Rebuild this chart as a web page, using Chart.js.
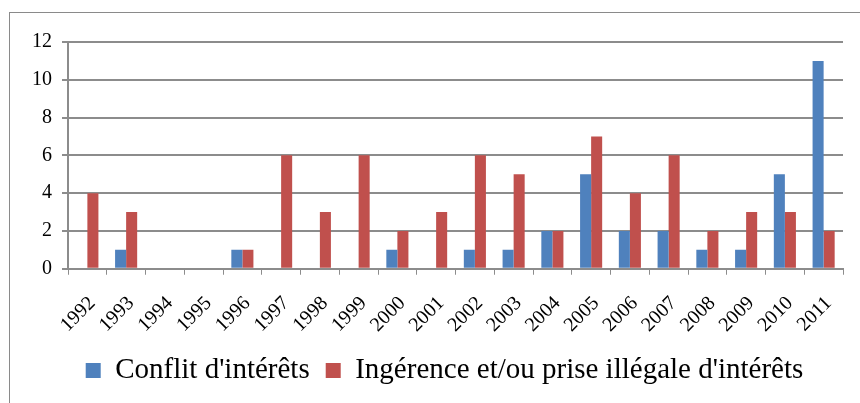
<!DOCTYPE html>
<html>
<head>
<meta charset="utf-8">
<script src="https://cdn.jsdelivr.net/npm/chart.js@4"></script>
<style>
  html, body { margin: 0; padding: 0; background: #fff; }
  #wrap { position: relative; width: 860px; height: 403px; overflow: hidden; }
  #frame { position: absolute; left: 9px; top: 12px; width: 900px; height: 450px; border: 1px solid #8a8a8a; box-sizing: border-box; }
  canvas { position: absolute; left: 0; top: 0; }
</style>
</head>
<body>
<div id="wrap">
  <div id="frame"></div>
  <canvas id="chart" width="860" height="403"></canvas>
</div>
<script>
const years = ['1992', '1993', '1994', '1995', '1996', '1997', '1998', '1999', '2000', '2001',
  '2002', '2003', '2004', '2005', '2006', '2007', '2008', '2009', '2010', '2011'];
const conflit = [0, 1, 0, 0, 1, 0, 0, 0, 1, 0, 1, 1, 2, 5, 2, 2, 1, 1, 5, 11];
const ingerence = [4, 3, 0, 0, 1, 6, 3, 6, 2, 3, 6, 5, 2, 7, 4, 6, 2, 3, 3, 2];
const seriesNames = ["Conflit d'intérêts", "Ingérence et/ou prise illégale d'intérêts"];

const gridColor = '#8c8c8c';
const serif = "'Liberation Serif', 'Times New Roman', serif";

// legend in the original is centred on the frame, a bit right of the plot
const shiftLegend = {
  id: 'shiftLegend',
  afterLayout(chart) {
    chart.legend.left += 12;
    chart.legend.right += 12;
  }
};

new Chart(document.getElementById('chart'), {
  type: 'bar',
  data: {
    labels: years,
    datasets: [
      { label: seriesNames[0], data: conflit, backgroundColor: '#4f81bd' },
      { label: seriesNames[1], data: ingerence, backgroundColor: '#c0504d' }
    ]
  },
  options: {
    responsive: false,
    animation: false,
    barPercentage: 1,
    categoryPercentage: 0.57,
    layout: { padding: { left: 22, right: 17, top: 42, bottom: 8 } },
    scales: {
      x: {
        grid: { drawOnChartArea: false, drawTicks: true, tickLength: 6, color: gridColor, offset: true },
        border: { color: gridColor, width: 2 },
        ticks: { color: '#000', font: { family: serif, size: 20 }, minRotation: 45, maxRotation: 45, padding: 17, labelOffset: 5 },
        afterFit: scale => { scale.height -= 14; }
      },
      y: {
        min: 0,
        max: 12,
        ticks: { stepSize: 2, color: '#000', font: { family: serif, size: 20 }, padding: 10 },
        grid: { color: gridColor, lineWidth: 2, tickLength: 6 },
        border: { color: gridColor, width: 2 }
      }
    },
    plugins: {
      legend: {
        position: 'bottom',
        labels: {
          color: '#000',
          font: { family: serif, size: 29 },
          boxWidth: 15,
          boxHeight: 15,
          padding: 16
        }
      },
      tooltip: { enabled: false }
    }
  },
  plugins: [shiftLegend]
});
</script>
</body>
</html>
